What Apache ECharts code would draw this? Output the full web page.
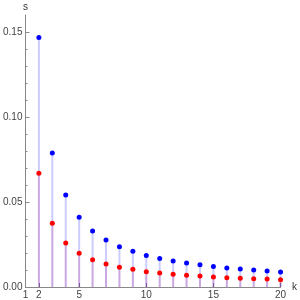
<!DOCTYPE html>
<html><head><meta charset="utf-8">
<script src="https://cdn.jsdelivr.net/npm/echarts@6/dist/echarts.min.js"></script>
<style>html,body{margin:0;padding:0;background:#fff}#c{width:300px;height:300px}</style>
</head><body><div id="c"></div>
<script>
const ks = [2,3,4,5,6,7,8,9,10,11,12,13,14,15,16,17,18,19,20];
const blueVals = [0.1467,0.0788,0.0541,0.0410,0.0329,0.0276,0.0237,0.0210,0.0186,0.0167,0.0153,0.0141,0.0131,0.0120,0.0112,0.0106,0.0100,0.0094,0.0088];
const redVals = [0.0669,0.0375,0.0259,0.0198,0.0161,0.0135,0.0116,0.0104,0.0090,0.0082,0.0075,0.0069,0.0065,0.0059,0.0055,0.0051,0.0049,0.0047,0.0043];
const xTicks = [1,2,5,10,15,20];
const yTicks = [0, 0.05, 0.10, 0.15];

const blueData = ks.map((k,i)=>[k, blueVals[i]]);
const redData = ks.map((k,i)=>[k, redVals[i]]);
const font = 'Liberation Sans';
const chart = echarts.init(document.getElementById('c'));
chart.setOption({
  animation:false,
  grid:{left:17,right:11,top:15,bottom:13,containLabel:false},
  xAxis:{type:'value',min:1,max:20,name:'k',nameLocation:'end',nameGap:4,
    nameTextStyle:{color:'#333',fontFamily:font,fontSize:10,verticalAlign:'middle'},
    axisLine:{show:true,onZero:false,lineStyle:{color:'#888'}},
    axisTick:{show:true,inside:true,length:4,customValues:xTicks,lineStyle:{color:'#888'}},
    axisLabel:{customValues:xTicks,color:'#444',fontFamily:font,fontSize:10,margin:3},
    splitLine:{show:false}},
  yAxis:{type:'value',min:0,max:0.16,interval:0.05,name:'s',nameLocation:'end',nameGap:3,
    nameTextStyle:{color:'#333',fontFamily:font,fontSize:10,align:'center'},
    axisLine:{show:true,lineStyle:{color:'#888'}},
    axisTick:{show:true,inside:true,length:4,customValues:yTicks,lineStyle:{color:'#888'}},
    minorTick:{show:true,splitNumber:5,length:2,lineStyle:{color:'#888'}},
    axisLabel:{customValues:yTicks,color:'#444',fontFamily:font,fontSize:10,margin:3,formatter:v=>v.toFixed(2)},
    splitLine:{show:false}},
  series:[
    {type:'bar',data:blueData,barWidth:2,barGap:'-100%',itemStyle:{color:'rgba(0,0,255,0.2)'},z:1},
    {type:'bar',data:redData,barWidth:2,barGap:'-100%',itemStyle:{color:'rgba(200,0,100,0.18)'},z:2},
    {type:'scatter',data:blueData,symbolSize:5,itemStyle:{color:'#0000ff',opacity:1},z:5},
    {type:'scatter',data:redData,symbolSize:5,itemStyle:{color:'#ff0000',opacity:1},z:5}
  ]
});
</script></body></html>
